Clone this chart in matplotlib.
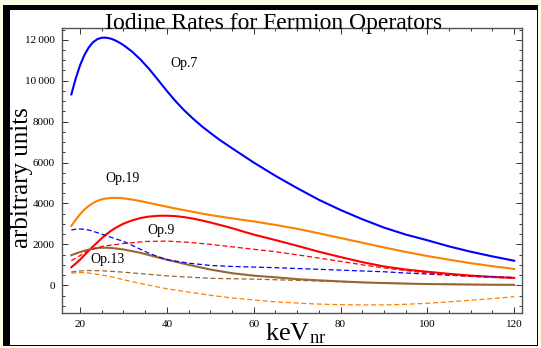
import matplotlib
matplotlib.use("Agg")
import matplotlib.pyplot as plt
from matplotlib.patches import Rectangle
from matplotlib.ticker import MultipleLocator, FixedLocator

plt.rcParams['font.family'] = ['Liberation Serif', 'DejaVu Serif']
plt.rcParams['mathtext.fontset'] = 'custom'
plt.rcParams['mathtext.rm'] = 'Liberation Serif'
plt.rcParams['mathtext.it'] = 'Liberation Serif:italic'

# ---- data ----
x_blue = [18, 19, 20, 21, 22, 23, 24, 25, 26, 27, 28, 29, 30, 32, 34, 36, 38, 40, 42, 44, 46, 48, 50, 52, 55,
          60, 65, 70, 75, 80, 85, 90, 95, 100, 105, 110, 115, 120]
op7_solid = [9330, 10100, 10750, 11250, 11620, 11880, 12030, 12100, 12100, 12060, 11980, 11870, 11740, 11420,
             11020, 10550, 10030, 9500, 9000, 8550, 8150, 7780, 7450, 7130, 6700, 6000, 5350, 4750, 4180, 3680,
             3230, 2820, 2480, 2200, 1900, 1640, 1410, 1200]
x_bd = [18, 19, 20, 21, 22, 23, 25, 28, 30, 33, 36, 40, 45, 50, 55, 60, 65, 70, 75, 80, 85, 90, 95, 100, 105,
        110, 115, 120]
op7_dashed = [2700, 2740, 2750, 2740, 2700, 2640, 2500, 2280, 2150, 1850, 1550, 1250, 1080, 970, 920, 890, 860,
              820, 780, 740, 700, 660, 600, 550, 490, 450, 410, 380]

x_or = [18, 19, 20, 21, 22, 23, 24, 25, 26, 27, 28, 29, 30, 32, 34, 36, 38, 40, 42, 45, 50, 55, 60, 65, 70, 75,
        80, 85, 90, 95, 100, 105, 110, 115, 120]
op19_solid = [2900, 3200, 3470, 3700, 3880, 4020, 4130, 4200, 4240, 4265, 4270, 4265, 4250, 4190, 4110, 4020,
              3930, 3840, 3750, 3630, 3430, 3270, 3120, 2950, 2760, 2540, 2310, 2080, 1850, 1630, 1430, 1250,
              1080, 930, 800]
x_od = [18, 19, 20, 21, 22, 25, 28, 30, 35, 40, 45, 50, 55, 60, 65, 70, 75, 80, 85, 90, 95, 100, 105, 110, 115,
        120]
op19_dashed = [590, 610, 620, 615, 600, 500, 380, 270, 40, -170, -330, -490, -620, -720, -810, -870, -920, -950,
               -960, -960, -930, -880, -810, -730, -650, -560]

x_red = [18, 19, 20, 21, 22, 23, 24, 25, 26, 27, 28, 29, 30, 32, 34, 36, 38, 40, 42, 44, 46, 48, 50, 52, 54, 56,
         58, 60, 62, 65, 70, 75, 80, 85, 90, 95, 100, 105, 110, 115, 120]
op9_solid = [880, 1060, 1250, 1470, 1690, 1900, 2100, 2300, 2480, 2640, 2780, 2900, 3010, 3170, 3290, 3360, 3395,
             3400, 3380, 3330, 3260, 3170, 3070, 2960, 2850, 2730, 2600, 2480, 2370, 2210, 1930, 1640, 1380, 1130,
             920, 770, 660, 560, 470, 410, 360]
x_rd = [18, 19, 20, 21, 22, 25, 30, 35, 40, 45, 50, 55, 60, 65, 70, 75, 80, 85, 90, 95, 100, 105, 110, 115, 120]
op9_dashed = [1200, 1330, 1450, 1580, 1700, 1900, 2040, 2140, 2160, 2100, 2000, 1880, 1760, 1640, 1490, 1330,
              1170, 1000, 850, 720, 600, 500, 430, 380, 350]

x_br = [18, 19, 20, 21, 22, 23, 24, 25, 26, 27, 28, 30, 32, 34, 36, 38, 40, 42, 45, 50, 55, 60, 65, 70, 75, 80,
        85, 90, 95, 100, 110, 120]
op13_solid = [1470, 1550, 1620, 1690, 1740, 1790, 1820, 1835, 1835, 1825, 1805, 1750, 1670, 1580, 1470, 1360,
              1250, 1150, 1000, 770, 590, 470, 390, 300, 240, 190, 140, 110, 80, 60, 35, 20]
x_brd = [18, 20, 22, 25, 30, 35, 40, 45, 50, 60, 70, 80, 90, 100, 110, 120]
op13_dashed = [650, 700, 720, 710, 640, 550, 460, 400, 340, 300, 240, 170, 110, 70, 40, 20]

labels = ['Op.7', 'Op.19', 'Op.9', 'Op.13']
label_pos = [(43.9, 10860), (29.9, 5240), (38.6, 2700), (26.4, 1240)]

x_ticks = [20, 40, 60, 80, 100, 120]
x_ticklabels = ['20', '40', '60', '80', '100', '120']
y_ticks = [0, 2000, 4000, 6000, 8000, 10000, 12000]
y_ticklabels = ['0', '2000', '4000', '6000', '8000', '10\u2009000', '12\u2009000']

title = 'Iodine Rates for Fermion Operators'
xlabel = r'keV$_{\mathrm{nr}}$'
ylabel = 'arbitrary units'

# ---- colors ----
BLUE = '#0000ff'
ORANGE = '#ff8000'
RED = '#ff0000'
BROWN = '#996633'

W, H = 541, 348
fig = plt.figure(figsize=(W / 100, H / 100), dpi=100)
fig.patch.set_facecolor('#fdfde3')

# frame: black left/top band, white panel
fig.add_artist(Rectangle((3 / W, 1 - 346 / H), (538 - 3) / W, (346 - 5) / H,
                         transform=fig.transFigure, facecolor='black', edgecolor='none', zorder=0))
fig.add_artist(Rectangle((10 / W, 1 - 345 / H), (537 - 10) / W, (345 - 10) / H,
                         transform=fig.transFigure, facecolor='white', edgecolor='none', zorder=0))

ax = fig.add_axes([62 / W, 1 - 313.3 / H, (522 - 62) / W, (313.3 - 28.3) / H])
ax.set_facecolor('none')

lw_s = 1.5
lw_d = 0.9
dash = (0, (4, 2.2))
ax.plot(x_blue, op7_solid, color=BLUE, lw=lw_s)
ax.plot(x_or, op19_solid, color=ORANGE, lw=lw_s)
ax.plot(x_red, op9_solid, color=RED, lw=lw_s)
ax.plot(x_br, op13_solid, color=BROWN, lw=lw_s)
ax.plot(x_bd, op7_dashed, color=BLUE, lw=lw_d, ls=dash)
ax.plot(x_od, op19_dashed, color=ORANGE, lw=lw_d, ls=dash)
ax.plot(x_rd, op9_dashed, color=RED, lw=lw_d, ls=dash)
ax.plot(x_brd, op13_dashed, color=BROWN, lw=lw_d, ls=dash)

for lab, (lx, ly) in zip(labels, label_pos):
    ax.text(lx, ly, lab, fontsize=10, ha='center', va='center', color='black')

ax.set_xlim(15.85, 121.8)
ax.set_ylim(-1370, 12560)

ax.xaxis.set_major_locator(FixedLocator(x_ticks))
ax.set_xticklabels(x_ticklabels)
ax.yaxis.set_major_locator(FixedLocator(y_ticks))
ax.set_yticklabels(y_ticklabels)
ax.xaxis.set_minor_locator(MultipleLocator(5))
ax.yaxis.set_minor_locator(MultipleLocator(500))

ax.tick_params(which='both', direction='in', top=True, right=True, color='#333333', width=0.7)
ax.tick_params(which='major', length=4, labelsize=8, pad=5)
ax.tick_params(which='minor', length=2)
for sp in ax.spines.values():
    sp.set_color('#555555')
    sp.set_linewidth(1.0)

fig.text(274 / W, 1 - 28.5 / H, title, fontsize=17, ha='center', va='baseline')
fig.text(296 / W, 1 - 340.5 / H, xlabel, fontsize=19, ha='center', va='baseline')
fig.text(22 / W, 1 - 178 / H, ylabel, fontsize=18, ha='center', va='center', rotation=90)

fig.savefig('out.png', dpi=100, facecolor=fig.get_facecolor())
